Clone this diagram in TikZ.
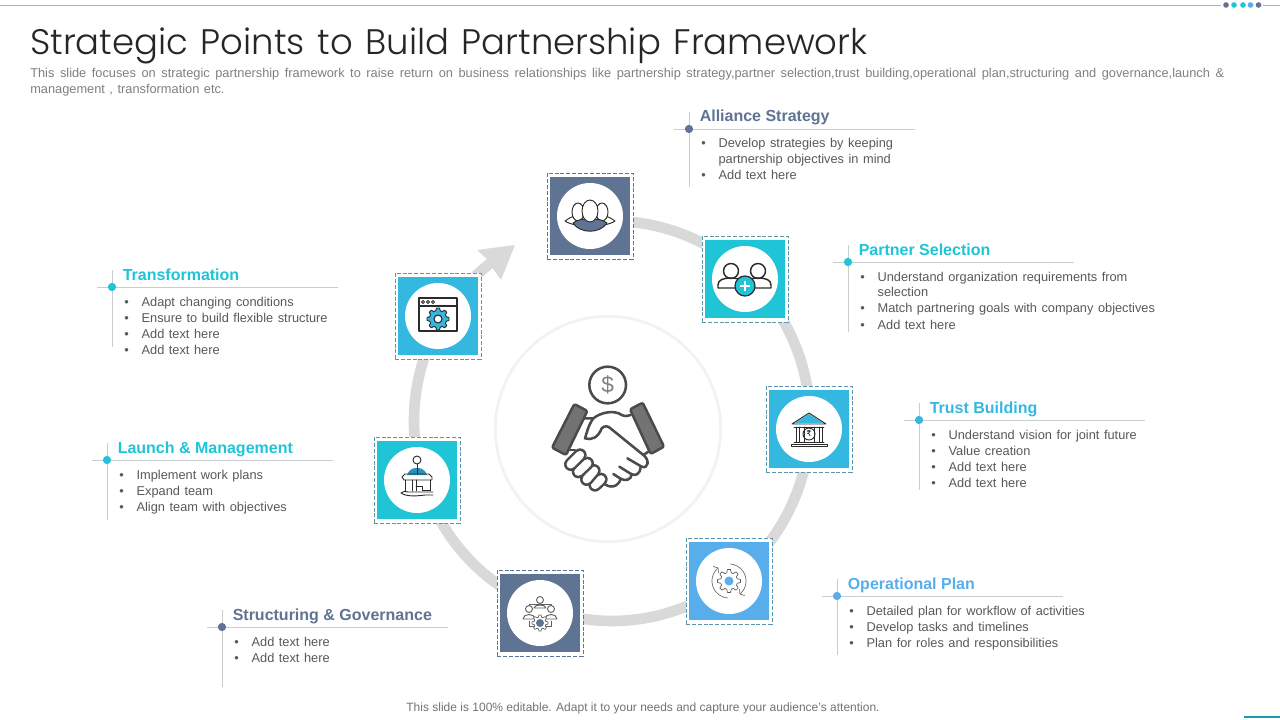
\documentclass[tikz,border=0pt]{standalone}
\usepackage{fontspec}
\setmainfont{Liberation Sans}
\newfontfamily\titlefont{Poppins Light}
\newfontfamily\dejavu{DejaVu Sans}
\definecolor{slate}{HTML}{5F7393}
\definecolor{teal}{HTML}{1FC4D6}
\definecolor{sky}{HTML}{35B8E0}
\definecolor{blue}{HTML}{58AEEB}
\definecolor{ring}{HTML}{D9D9D9}
\definecolor{txt}{HTML}{595959}
\definecolor{rule}{HTML}{C9CDD2}
\definecolor{ink}{HTML}{2B2B2B}
\definecolor{dashc}{HTML}{5C96A8}
\newcommand{\bodyfont}{\fontsize{9.6pt}{12pt}\selectfont\spaceskip=3.4pt\relax}
\tikzset{
  x=0.75pt,y=-0.75pt,
  head/.style={anchor=base west,inner sep=0pt,font=\fontsize{12pt}{15pt}\selectfont\bfseries},
  body/.style={anchor=base west,inner sep=0pt,text=txt,font=\bodyfont},
  tile/.style={inner sep=0pt,minimum width=60pt,minimum height=58.5pt,fill=#1},
  halo/.style={draw=#1,dash pattern=on 3pt off 1.4pt,line width=0.55pt,fill=white,minimum size=64.5pt,inner sep=0pt},
  disc/.style={circle,fill=white,minimum size=49.5pt,inner sep=0pt},
  dotn/.style={circle,fill=#1,minimum size=6.2pt,inner sep=0pt},
  rl/.style={draw=rule,line width=0.6pt},
  ic/.style={draw=ink,line width=0.7pt,line join=round,line cap=round},
  hand/.style={draw=ink!85,line width=1.9pt,line join=round,line cap=round}
}
\newcommand{\labelblock}[7]{%
  \coordinate (#1hl) at (#2-15,#3+0.5);
  \coordinate (#1hr) at (#2+226,#3+0.5);
  \coordinate (#1vt) at (#2,#3-17);
  \coordinate (#1vb) at (#2,#3+#7);
  \draw[rl] (#1hl) -- (#1hr);
  \draw[rl] (#1vt) -- (#1vb);
  \node[dotn=#4] (#1dot) at (#2,#3) {};
  \node[head,text=#4] (#1head) at (#2+10.5,#3-7) {#5};
  \node[body] (#1body) at (#2+12,#3+19) {\vtop{\baselineskip=12pt\lineskiplimit=-20pt #6}};
}
\newcommand{\bl}[1]{\hbox{\makebox[13pt][l]{\textbullet}#1}}
\newcommand{\cn}[1]{\hbox{\hspace*{13pt}#1}}
\newcommand{\iconbox}[5]{%
  \node[halo=#5] (#1h) at (#2,#3) {};
  \node[tile=#4] (#1t) at (#2,#3) {};
  \node[disc] (#1c) at (#2,#3) {};
}
% gear outline: centre x, centre y, root radius, tip radius
\newcommand{\gearline}[4]{plot[domain=0:360,samples=97] ({#1+(#3+(#4-#3)*(0.5+0.5*sign(cos(8*\x))))*cos(\x)},{#2+(#3+(#4-#3)*(0.5+0.5*sign(cos(8*\x))))*sin(\x)})}
\begin{document}
\begin{tikzpicture}
\useasboundingbox (0,0) rectangle (1280,720);
\fill[white] (0,0) rectangle (1280,720);
% top rule
\coordinate (tl) at (0,5); \coordinate (tr) at (1280,5);
\draw[draw=black!32,line width=0.7pt] (tl) -- (tr);
\fill[white] (1221,1) rectangle (1263,9);
\foreach \px/\c in {1226/slate,1234/teal,1243/teal,1250.5/blue,1258.5/slate}{
  \fill[\c] (\px,5) circle[radius=2.8];
}
\coordinate (bl) at (1244,717); \coordinate (br) at (1280,717);
\draw[teal!80!black,line width=0.9pt] (bl) -- (br);
% title
\node[anchor=base west,inner sep=0pt,text=black!85] (title) at (30,55)
  {\resizebox{628pt}{!}{\titlefont\fontsize{31pt}{36pt}\selectfont\spaceskip=11pt\relax Strategic Points to Build Partnership Framework}};
\node[anchor=base west,inner sep=0pt,text=black!50] (sub1) at (30,78)
  {\makebox[895.5pt][s]{\fontsize{9.6pt}{12pt}\selectfont This slide focuses on strategic partnership framework to raise return on business relationships like partnership strategy,partner selection,trust building,operational plan,structuring and governance,launch \&}};
\node[anchor=base west,inner sep=0pt,text=black!50] (sub2) at (30,94)
  {\bodyfont management , transformation etc.};
\node[inner sep=0pt,text=black!55] (foot) at (643,708)
  {\fontsize{9pt}{11pt}\selectfont This slide is 100\% editable. Adapt it to your needs and capture your audience's attention.};
% ring
\draw[ring,line width=8pt] plot[domain=85:-232,samples=160,smooth] ({612+198*cos(\x)},{421-200*sin(\x)});
\fill[ring,rounded corners=0.8pt] (515,245) -- (477,250) -- (487,259) -- (494,270) -- (501,280) -- cycle;
% centre circle
\node[circle,draw=black!5,line width=2pt,minimum size=169pt,inner sep=0pt] (hub) at (608,429) {};
% centre icon
\begin{scope}[shift={(530,350)},x=0.25pt,y=-0.25pt]
  \node[circle,draw=ink!85,line width=1.9pt,minimum size=27.5pt,inner sep=0pt] (coin) at (233,105) {};
  \node[inner sep=0pt,text=black!50] (dollar) at (233,105) {\fontsize{17pt}{17pt}\selectfont\$};
  \draw[hand,fill=black!55,rounded corners=1.5pt] (133,162) -- (172,183) -- (108,315) -- (66,293) -- cycle;
  \draw[hand,fill=black!55,rounded corners=1.5pt] (300,178) -- (338,158) -- (402,290) -- (362,312) -- cycle;
  \draw[hand] (165,205) -- (190,205) .. controls (215,185) and (255,180) .. (275,195) .. controls (285,200) and (295,198) .. (302,195);
  \draw[hand] (190,205) .. controls (175,225) and (170,250) .. (165,265) .. controls (185,272) and (205,262) .. (215,235) .. controls (225,225) and (235,228) .. (245,238) -- (340,315) .. controls (360,330) and (355,358) .. (335,350) -- (292,325);
  \draw[hand] (355,305) -- (340,315);
  \draw[hand] (332,350) .. controls (330,375) and (315,380) .. (300,370) -- (268,350);
  \draw[hand] (305,372) .. controls (305,390) and (285,395) .. (270,385) -- (250,372);
  \draw[hand] (272,387) .. controls (265,410) and (240,420) .. (215,395);
  \draw[hand] (115,300) -- (135,300);
  \foreach \xa/\ya/\xb/\yb in {195/405/213/388,170/388/192/362,145/365/172/340,122/343/150/315}{
    \draw[draw=ink!85,line width=10pt,line cap=round] (\xa,\ya) -- (\xb,\yb);
    \draw[draw=white,line width=6.2pt,line cap=round] (\xa,\ya) -- (\xb,\yb);
  }
\end{scope}
% icon boxes
\iconbox{a}{590}{216}{slate}{slate}
\iconbox{b}{745}{279}{teal}{dashc}
\iconbox{c}{809}{429}{sky}{dashc}
\iconbox{d}{729}{581}{blue}{dashc}
\iconbox{e}{540}{613}{slate}{slate}
\iconbox{f}{417}{480}{teal}{dashc}
\iconbox{g}{438}{316}{sky}{dashc}
% people icon
\begin{scope}[shift={(590,217)}]
  \draw[ic,fill=white] (-25,4) .. controls (-20,0) and (-14,-2) .. (-8,-2) -- (8,-2) .. controls (14,-2) and (20,0) .. (25,4) .. controls (15,11) and (-15,11) .. (-25,4) -- cycle;
  \draw[ic,fill=white] (-12,-5) ellipse[x radius=6,y radius=9];
  \draw[ic,fill=white] (12,-5) ellipse[x radius=6,y radius=9];
  \draw[ic,fill=slate] (-17,6) .. controls (-12,2) and (-6,2) .. (0,2) .. controls (6,2) and (12,2) .. (17,6) .. controls (10,17) and (-10,17) .. (-17,6) -- cycle;
  \draw[ic,fill=white] (0,-6) ellipse[x radius=8,y radius=11];
\end{scope}
% partner icon
\begin{scope}[shift={(745,279)}]
  \draw[ic,line width=1.1pt] (-14,-8) circle[radius=7.5];
  \draw[ic,line width=1.1pt] (13,-8) circle[radius=7.5];
  \draw[ic,line width=1.1pt] (-10,9) -- (-27,9) -- (-27,6) .. controls (-27,1) and (-22,-1) .. (-14,-1) .. controls (-9,-1) and (-5,0) .. (-3,2);
  \draw[ic,line width=1.1pt] (10,9) -- (26,9) -- (26,6) .. controls (26,1) and (21,-1) .. (13,-1) .. controls (8,-1) and (5,0) .. (3,2);
  \fill[teal] (0,7) circle[radius=10];
  \draw[ic,line width=0.9pt] (0,7) circle[radius=10];
  \draw[white,line width=1.2pt] (-5,7) -- (5,7) (0,2) -- (0,12);
\end{scope}
% bank icon
\begin{scope}[shift={(809,429)}]
  \fill[sky] (0,-15) -- (-14,-6) -- (14,-6) -- cycle;
  \draw[ic] (0,-16) -- (-17,-5) -- (17,-5) -- cycle;
  \draw[ic] (-15,-2) -- (15,-2);
  \draw[ic] (-13,-2) -- (-13,13) (-10,-2) -- (-10,13) (-5,-2) -- (-5,13) (5,-2) -- (5,13) (10,-2) -- (10,13) (13,-2) -- (13,13);
  \draw[ic] (-15,13) -- (15,13) (-18,15) rectangle (18,17);
  \draw[ic] (0,5) circle[radius=6];
  \node[inner sep=0pt] (rupee) at (0,5) {\dejavu\fontsize{6pt}{6pt}\selectfont ₹};
\end{scope}
% operation icon
\begin{scope}[shift={(729,581)}]
  \fill[blue] (0,0) circle[radius=4.5];
  \draw[ic,draw=ink!80,line width=0.5pt] \gearline{0}{0}{8.5}{11.5} -- cycle;
  \draw[ic,draw=ink!70,line width=0.5pt] plot[domain=130:265,samples=40,smooth] ({17*cos(\x)},{-17*sin(\x)});
  \draw[ic,draw=ink!70,line width=0.5pt] (-11,-13) -- (-15.5,-14.5) (-11,-13) -- (-10.5,-8.5);
  \draw[ic,draw=ink!70,line width=0.5pt] plot[domain=85:-50,samples=40,smooth] ({17*cos(\x)},{-17*sin(\x)});
  \draw[ic,draw=ink!70,line width=0.5pt] (11,13) -- (15.5,14.5) (11,13) -- (10.5,8.5);
\end{scope}
% structure icon
\begin{scope}[shift={(540,613)}]
  \draw[ic,draw=ink!75] (-11,-2) -- (-11,-9) -- (11,-9) -- (11,-2) (-11,8) -- (-11,13) -- (-6,13) (11,8) -- (11,13) -- (6,13);
  \draw[ic,draw=ink!75,fill=white] (0,-13) circle[radius=3.5] (-6,-5) .. controls (-6,-9) and (6,-9) .. (6,-5) -- cycle;
  \draw[ic,draw=ink!75,fill=white] (-11,-4) circle[radius=3.5] (-17,6) .. controls (-17,0) and (-5,0) .. (-5,6) -- cycle;
  \draw[ic,draw=ink!75,fill=white] (11,-4) circle[radius=3.5] (17,6) .. controls (17,0) and (5,0) .. (5,6) -- cycle;
  \draw[ic,draw=ink!75,line width=0.5pt,fill=white] \gearline{0}{10}{6}{8} -- cycle;
  \fill[slate] (0,10) circle[radius=4];
\end{scope}
% podium icon
\begin{scope}[shift={(417,480)}]
  \fill[sky!80!black] (-10,-5) .. controls (-7,-12) and (-3,-12) .. (0,-12) .. controls (3,-12) and (7,-12) .. (10,-5) -- cycle;
  \draw[ic] (0,-20) circle[radius=4];
  \draw[ic] (0,-16) -- (0,-6);
  \draw[ic] (-13,0) -- (-15,-3) -- (-12,-6) -- (12,-6) -- (15,-3) -- (15,0) -- cycle;
  \draw[ic] (-12,0) -- (-12,11) (13,0) -- (13,11) (-5,0) -- (-5,11) (-1,0) -- (-1,11) (-1,6) -- (5,6) -- (5,10) -- (13,10);
  \draw[ic] (-16,13) .. controls (-14,11) and (-11,11) .. (-9,12) -- (16,12) (-16,13) .. controls (-10,17) and (0,16) .. (8,15) -- (16,15);
\end{scope}
% window gear icon
\begin{scope}[shift={(438,316)}]
  \draw[ic,line width=0.8pt] (-19,-18) rectangle (19,15);
  \draw[ic,line width=0.8pt] (-19,-10) -- (19,-10);
  \foreach \px in {-15,-10,-5}{\draw[ic,line width=0.6pt] (\px,-14) circle[radius=1.5];}
  \draw[ic,fill=sky,line width=0.7pt] \gearline{0}{3}{8.5}{11} -- cycle;
  \draw[ic,fill=white,line width=0.8pt] (0,3) circle[radius=4];
\end{scope}
% labels
\labelblock{as}{689}{129}{slate}{Alliance Strategy}{\bl{Develop strategies by keeping}\cn{partnership objectives in mind}\bl{Add text here}}{58}
\labelblock{ps}{848}{262}{teal}{Partner Selection}{\bl{Understand organization requirements from}\cn{selection}\bl{Match partnering goals with company objectives}\bl{Add text here}}{70}
\labelblock{tb}{919}{420}{sky}{Trust Building}{\bl{Understand vision for joint future}\bl{Value creation}\bl{Add text here}\bl{Add text here}}{70}
\labelblock{op}{837}{596}{blue}{Operational Plan}{\bl{Detailed plan for workflow of activities}\bl{Develop tasks and timelines}\bl{Plan for roles and responsibilities}}{59}
\labelblock{sg}{222}{627}{slate}{Structuring \& Governance}{\bl{Add text here}\bl{Add text here}}{60}
\labelblock{lm}{107}{460}{teal}{Launch \& Management}{\bl{Implement work plans}\bl{Expand team}\bl{Align team with objectives}}{60}
\labelblock{tr}{112}{287}{teal}{Transformation}{\bl{Adapt changing conditions}\bl{Ensure to build flexible structure}\bl{Add text here}\bl{Add text here}}{60}
\end{tikzpicture}
\end{document}
